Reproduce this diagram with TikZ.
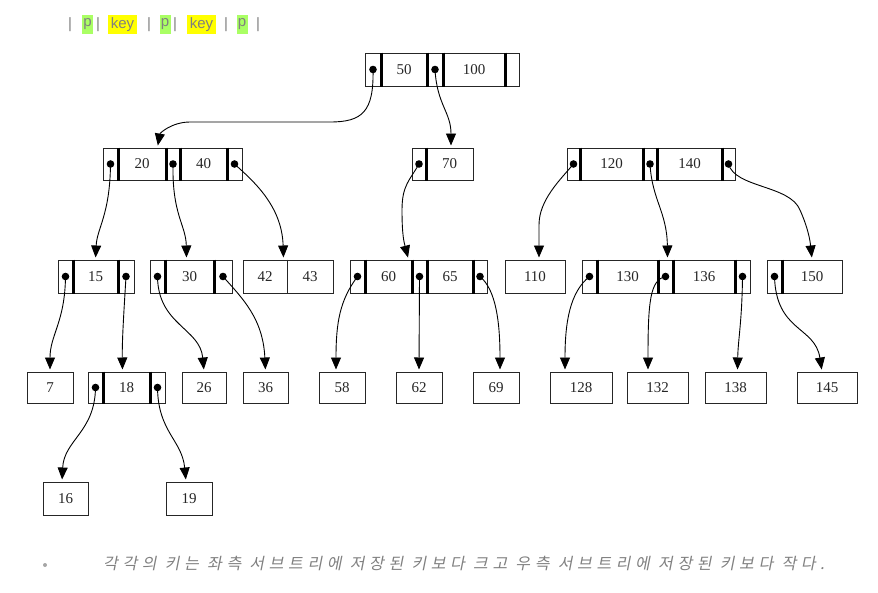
\documentclass[tikz,border=0pt]{standalone}
\usepackage{fontspec}
\setmainfont{Liberation Serif}
\newfontfamily\legendfont{Liberation Sans}
\newfontfamily\krfont[FakeSlant=0.2,LetterSpace=29]{Noto Sans CJK KR}
\usetikzlibrary{arrows.meta}
\definecolor{lgray}{RGB}{128,128,128}
\definecolor{pgreen}{RGB}{170,255,100}
\definecolor{kyellow}{RGB}{255,255,0}
\begin{document}
\begin{tikzpicture}[x=1pt,y=-1pt,
  box/.style={draw=black!85, line width=1pt, inner sep=0pt, minimum height=32pt,
    font=\fontsize{15}{17}\selectfont, text=black!85},
  div/.style={line width=2.3pt, black},
  link/.style={line width=0.9pt, -{Triangle[length=12pt,width=10pt]}, shorten >=2pt},
  leg/.style={inner sep=0pt, text=lgray, font=\legendfont\fontsize{15}{17}\selectfont},
  hl/.style={leg, minimum height=19pt, fill=#1},
  pdot/.style={radius=3.8pt}
]
\useasboundingbox (0,0) rectangle (878,592);
% ---------- legend ----------
\node[leg] (b1) at (70,24.5) {|};
\node[hl=pgreen, minimum width=11pt] (lp1) at (87.5,24.5) {p};
\node[leg] (b2) at (98,24.5) {|};
\node[hl=kyellow, minimum width=29pt] (lk1) at (122.5,24.5) {key};
\node[leg] (b3) at (149,24.5) {|};
\node[hl=pgreen, minimum width=11pt] (lp2) at (165,24.5) {p};
\node[leg] (b4) at (175,24.5) {|};
\node[hl=kyellow, minimum width=29pt] (lk2) at (201.5,24.5) {key};
\node[leg] (b5) at (226,24.5) {|};
\node[hl=pgreen, minimum width=11pt] (lp3) at (242,24.5) {p};
\node[leg] (b6) at (258,24.5) {|};
% ---------- level 1 ----------
\begin{scope}[every node/.style={box, minimum height=33pt}]
\node[minimum width=16] (r0) at (373,69.5) {};
\node[minimum width=46] (k50) at (404,69.5) {50};
\node[minimum width=16] (r1) at (435,69.5) {};
\node[minimum width=62] (k100) at (474,69.5) {100};
\node[minimum width=14] (r2) at (512,69.5) {};
\end{scope}
% ---------- level 2 ----------
\begin{scope}[every node/.style={box, minimum height=32pt}]
\node[minimum width=15] (a0) at (110.5,164) {};
\node[minimum width=48] (k20) at (142,164) {20};
\node[minimum width=14] (a1) at (173,164) {};
\node[minimum width=47] (k40) at (203.5,164) {40};
\node[minimum width=15] (a2) at (234.5,164) {};
\node[minimum width=14] (b0) at (419,164) {};
\node[minimum width=47] (k70) at (449.5,164) {70};
\node[minimum width=13] (c0) at (573.5,164) {};
\node[minimum width=63] (k120) at (611.5,164) {120};
\node[minimum width=14] (c1) at (650,164) {};
\node[minimum width=65] (k140) at (689.5,164) {140};
\node[minimum width=13] (c2) at (728.5,164) {};
\end{scope}
% ---------- level 3 ----------
\begin{scope}[every node/.style={box, minimum height=33pt}]
\node[minimum width=15] (d0) at (65.5,276.5) {};
\node[minimum width=45] (k15) at (95.5,276.5) {15};
\node[minimum width=16] (d1) at (126,276.5) {};
\node[minimum width=15] (e0) at (157.5,276.5) {};
\node[minimum width=49] (k30) at (189.5,276.5) {30};
\node[minimum width=18] (e1) at (223,276.5) {};
\node[minimum width=44] (k42) at (265,276.5) {42};
\node[minimum width=46] (k43) at (310,276.5) {43};
\node[minimum width=15] (f0) at (357.5,276.5) {};
\node[minimum width=47] (k60) at (388.5,276.5) {60};
\node[minimum width=15] (f1) at (419.5,276.5) {};
\node[minimum width=46] (k65) at (450,276.5) {65};
\node[minimum width=14] (f2) at (480,276.5) {};
\node[minimum width=60] (k110) at (535,276.5) {110};
\node[minimum width=15] (g0) at (589.5,276.5) {};
\node[minimum width=61] (k130) at (627.5,276.5) {130};
\node[minimum width=15] (g1) at (665.5,276.5) {};
\node[minimum width=62] (k136) at (704,276.5) {136};
\node[minimum width=15] (g2) at (742.5,276.5) {};
\node[minimum width=15] (h0) at (774.5,276.5) {};
\node[minimum width=60] (k150) at (812,276.5) {150};
\end{scope}
% ---------- level 4 ----------
\begin{scope}[every node/.style={box, minimum height=31pt}]
\node[minimum width=46] (n7) at (50,387.5) {7};
\node[minimum width=15] (i0) at (95.5,387.5) {};
\node[minimum width=47] (k18) at (126.5,387.5) {18};
\node[minimum width=15] (i1) at (157.5,387.5) {};
\node[minimum width=44] (n26) at (204,387.5) {26};
\node[minimum width=45] (n36) at (265.5,387.5) {36};
\node[minimum width=46] (n58) at (342,387.5) {58};
\node[minimum width=46] (n62) at (419,387.5) {62};
\node[minimum width=46] (n69) at (496,387.5) {69};
\node[minimum width=62] (n128) at (581,387.5) {128};
\node[minimum width=61] (n132) at (657.5,387.5) {132};
\node[minimum width=61] (n138) at (735.5,387.5) {138};
\node[minimum width=60] (n145) at (827,387.5) {145};
\end{scope}
% ---------- level 5 ----------
\begin{scope}[every node/.style={box, minimum height=33pt}]
\node[minimum width=45] (n16) at (65.5,498.5) {16};
\node[minimum width=46] (n19) at (189,498.5) {19};
\end{scope}
% ---------- thick dividers ----------
\foreach \c in {r0,k50,r1,k100, a0,k20,a1,k40, b0, c0,k120,c1,k140,
                d0,k15, e0,k30, f0,k60,f1,k65, g0,k130,g1,k136, h0, i0,k18}
  \draw[div] (\c.north east) -- (\c.south east);
\draw[line width=1.2pt, black!85] (k42.north east) -- (k42.south east);
% ---------- dots ----------
\foreach \c in {r0,r1,a0,a1,a2,b0,c0,c1,c2,d0,d1,e0,e1,f0,f1,f2,g0,g1,g2,h0,i0,i1}
  \fill (\c.center) circle[pdot];
% ---------- links ----------
\draw[link] (r0.center) .. controls (374,112) and (362,122) .. (330,122) -- (190,122)
  .. controls (172,122) and (160,133) .. ([xshift=-9pt]k20.north east);
\draw[link] (r1.center) .. controls (437,105) and (451,112) .. ([xshift=1.5pt]k70.north);
\draw[link] (a0.center) .. controls (110,215) and (97,228) .. (k15.north);
\draw[link] (a1.center) .. controls (172,215) and (186,225) .. ([xshift=-3pt]k30.north);
\draw[link] (a2.center) .. controls (252,180) and (282,205) .. ([xshift=-4pt]k42.north east);
\draw[link] (b0.center) .. controls (410,180) and (402,185) .. (402,210)
  .. controls (402,235) and (404,242) .. ([xshift=-4pt]k60.north east);
\draw[link] (c0.center) .. controls (560,180) and (539,200) .. (539,225) -- ([xshift=4pt]k110.north);
\draw[link] (c1.center) .. controls (652,200) and (667,212) .. ([xshift=2pt]g1.north);
\draw[link] (c2.center) .. controls (735,188) and (790,185) .. (800,210)
  .. controls (808,228) and (810,240) .. (k150.north);
\draw[link] (d0.center) .. controls (65,322) and (50,335) .. (n7.north);
\draw[link] (d1.center) .. controls (124,310) and (122,340) .. ([xshift=-4pt]k18.north);
\draw[link] (e0.center) .. controls (158,325) and (200,328) .. (n26.north);
\draw[link] (e1.center) .. controls (242,298) and (263,318) .. (n36.north);
\draw[link] (f0.center) .. controls (340,300) and (336,322) .. ([xshift=-6pt]n58.north);
\draw[link] (f1.center) -- (n62.north);
\draw[link] (f2.center) .. controls (496,290) and (500,322) .. ([xshift=4pt]n69.north);
\draw[link] (g0.center) .. controls (570,292) and (565,322) .. ([xshift=-16pt]n128.north);
\draw[link] (g1.center) .. controls (650,280) and (648,302) .. ([xshift=-9.5pt]n132.north);
\draw[link] (g2.center) .. controls (742,322) and (738,340) .. ([xshift=2pt]n138.north);
\draw[link] (h0.center) .. controls (776,332) and (815,326) .. ([xshift=-5pt]n145.north);
\draw[link] (i0.center) .. controls (95,432) and (64,440) .. ([xshift=-3.5pt]n16.north);
\draw[link] (i1.center) .. controls (158,432) and (182,440) .. ([xshift=-3pt]n19.north);
% ---------- caption ----------
\node[circle, fill=lgray!70, inner sep=0pt, minimum size=4pt] (bullet) at (45,565) {};
\node[anchor=west, inner sep=0pt, text=lgray, font=\fontsize{16}{18}\selectfont] (caption) at (103,563)
  {\krfont 각각의 키는 좌측 서브트리에 저장된 키보다 크고 우측 서브트리에 저장된 키보다 작다.};
\end{tikzpicture}
\end{document}
